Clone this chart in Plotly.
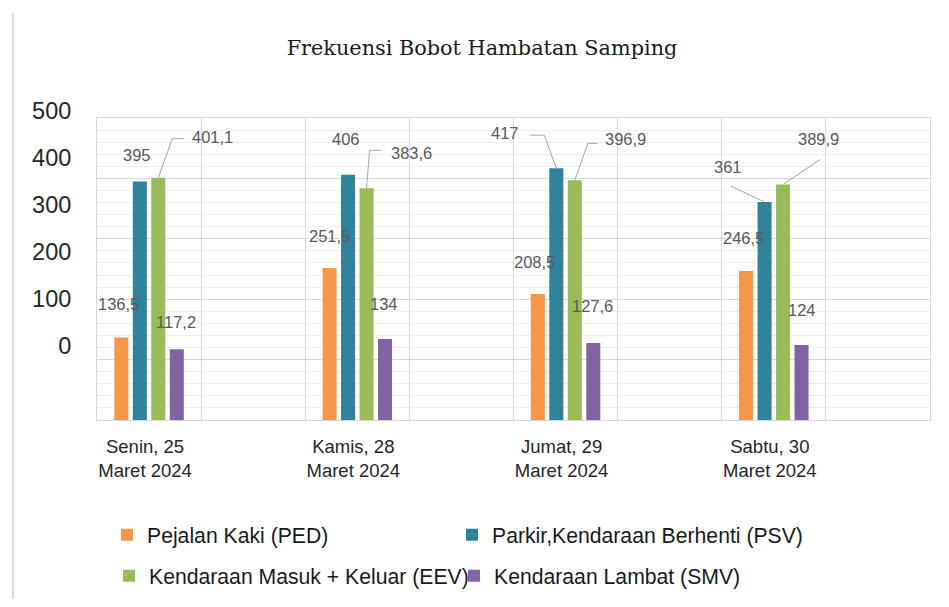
import plotly.graph_objects as go

# ---------------- data ----------------
categories = ["Senin, 25<br>Maret 2024", "Kamis, 28<br>Maret 2024",
              "Jumat, 29<br>Maret 2024", "Sabtu, 30<br>Maret 2024"]
category_pos = [0, 2, 4, 6]
series_names = ["Pejalan Kaki (PED)", "Parkir,Kendaraan Berhenti (PSV)",
                "Kendaraan Masuk + Keluar (EEV)", "Kendaraan Lambat (SMV)"]
ped = [136.5, 251.5, 208.5, 246.5]
psv = [395, 406, 417, 361]
eev = [401.1, 383.6, 396.9, 389.9]
smv = [117.2, 134, 127.6, 124]
y_tick_values = [0, 100, 200, 300, 400, 500]
y_tick_labels = ["0", "100", "200", "300", "400", "500"]
title_text = "Frekuensi Bobot Hambatan Samping"

# ---------------- style ----------------
colors = ["#F79646", "#2E8299", "#9BBB59", "#8064A2"]
legend_ids = ["legend", "legend2", "legend3", "legend4"]
# legend box left / row centre in figure px (figure coords = window coords - 8)
legend_left = [99, 444, 101, 446]
legend_mid = [527, 527, 568, 568]
BARGAP = 0.645
GROUPGAP = 0.24
# label offsets in px (dx, dy up) per series per category
label_offsets = [
    [(-3, 34), (0, 32), (-3, 32), (-3, 33)],
    [(-3, 26), (-2, 36), (-51, 35), (-37, 35)],
    [(54, 41), (45, 35), (51, 41), (35, 46)],
    [(-1, 27), (-1, 35), (-1, 37), (0, 35)],
]
# leader lines (series, category, pixel path relative to bar top)
leaders = [
    (2, 0, [(0, 0), (14, 39), (26, 39)]),
    (2, 1, [(0, 0), (3, 38), (15, 38)]),
    (1, 2, [(0, 0), (-12, 33), (-26, 33)]),
    (2, 2, [(0, 0), (13, 37), (23, 37)]),
    (1, 3, [(0, 0), (-34, 16)]),
    (2, 3, [(0, 0), (37, 25)]),
]

values = [ped, psv, eev, smv]
slot = 2 * (1 - BARGAP) / len(values)
bar_off = [(i - (len(values) - 1) / 2) * slot for i in range(len(values))]


def fmt(v):
    return f"{v:g}".replace(".", ",")


fig = go.Figure()
for i, (name, vals) in enumerate(zip(series_names, values)):
    fig.add_trace(go.Bar(
        x=category_pos, y=vals, name=name, marker_color=colors[i],
        marker_line_width=0, legend=legend_ids[i], hoverinfo="skip",
    ))
# empty trace so the label-only axis pair (x2/y2) is rendered
fig.add_trace(go.Scatter(x=[None], y=[None], xaxis="x2", yaxis="y2",
                         showlegend=False, hoverinfo="skip", mode="markers"))

annotations = []
for i, vals in enumerate(values):
    for j, v in enumerate(vals):
        dx, dy = label_offsets[i][j]
        annotations.append(dict(
            x=category_pos[j] + bar_off[i], y=v, xref="x", yref="y",
            text=fmt(v), showarrow=False, xanchor="center", yanchor="middle",
            xshift=dx, yshift=dy,
            font=dict(family="Liberation Sans, Arial, sans-serif", size=16.5, color="#595959"),
        ))

shapes = []
for (i, j, pts) in leaders:
    path = "M" + " L".join(f"{px},{py}" for px, py in pts)
    shapes.append(dict(
        type="path", xref="x", yref="y", xsizemode="pixel", ysizemode="pixel",
        xanchor=category_pos[j] + bar_off[i], yanchor=values[i][j], path=path,
        line=dict(color="#A6A6A6", width=1),
    ))

# page has an 8px body margin: figure coords = window coords - 8
W, H = 933, 591
ML, MR, MT, MB = 89, 11, 92, 179
pw, ph = W - ML - MR, H - MT - MB
PB = H - MB  # plot bottom in fig px

shapes.append(dict(type="line", xref="paper", yref="paper",
                   x0=(5 - ML) / pw, x1=(5 - ML) / pw,
                   y0=(PB - 600) / ph, y1=(PB - 5) / ph,
                   line=dict(color="#D9D9D9", width=2)))

main_top = (PB - 110) / ph

label_font = dict(family="Liberation Sans, Arial, sans-serif", size=21.2, color="#1A1A1A")

legends = {}
for k, lid in enumerate(legend_ids):
    legends[lid] = dict(orientation="h", xref="container", yref="container",
                        x=legend_left[k] / W, xanchor="left",
                        y=1 - legend_mid[k] / H, yanchor="middle", itemwidth=30,
                        bgcolor="rgba(0,0,0,0)", font=label_font)

fig.update_layout(
    width=W, height=H,
    margin=dict(l=ML, r=MR, t=MT, b=MB, autoexpand=False),
    paper_bgcolor="white", plot_bgcolor="rgba(0,0,0,0)",
    barmode="group", bargap=BARGAP, bargroupgap=GROUPGAP,
    title=dict(text=title_text, x=474 / W, xanchor="center", y=1 - 40 / H, yanchor="middle",
               font=dict(family="DejaVu Serif, serif", size=20.8, color="#1A1A1A")),
    xaxis=dict(
        range=[-0.5, 7.5], tickmode="array", tickvals=category_pos, ticktext=categories,
        showgrid=False, zeroline=False,
        showline=True, linecolor="#D9D9D9", linewidth=1, mirror=True,
        ticks="outside", ticklen=10, tickcolor="rgba(0,0,0,0)", ticklabelshift=-4,
        tickfont=dict(family="Liberation Sans, Arial, sans-serif", size=18.5, color="#262626"),
        minor=dict(tickmode="linear", tick0=0.5, dtick=1, showgrid=True,
                   gridcolor="#D9D9D9", gridwidth=1, ticks=""),
    ),
    yaxis=dict(
        domain=[0, main_top], range=[0, 500], dtick=100, showticklabels=False,
        showgrid=True, gridcolor="#D9D9D9", gridwidth=1, zeroline=False,
        showline=True, linecolor="#D9D9D9", linewidth=1, mirror=True,
        minor=dict(dtick=20, showgrid=True, gridcolor="#EEEEEE", gridwidth=1),
    ),
    xaxis2=dict(domain=[0, 1], anchor="y2", visible=False, range=[0, 1]),
    yaxis2=dict(
        visible=True, domain=[0, 1], anchor="x2", side="left",
        range=[(338 - PB) / 0.47, (338 - MT) / 0.47],
        tickmode="array", tickvals=y_tick_values, ticktext=y_tick_labels,
        showgrid=False, zeroline=False, showline=False,
        ticks="outside", ticklen=20, tickcolor="rgba(0,0,0,0)",
        tickfont=dict(family="Liberation Sans, Arial, sans-serif", size=23.5, color="#262626"),
    ),
    annotations=annotations,
    shapes=shapes,
    showlegend=True,
    **legends,
)

fig.write_html("out.html")
